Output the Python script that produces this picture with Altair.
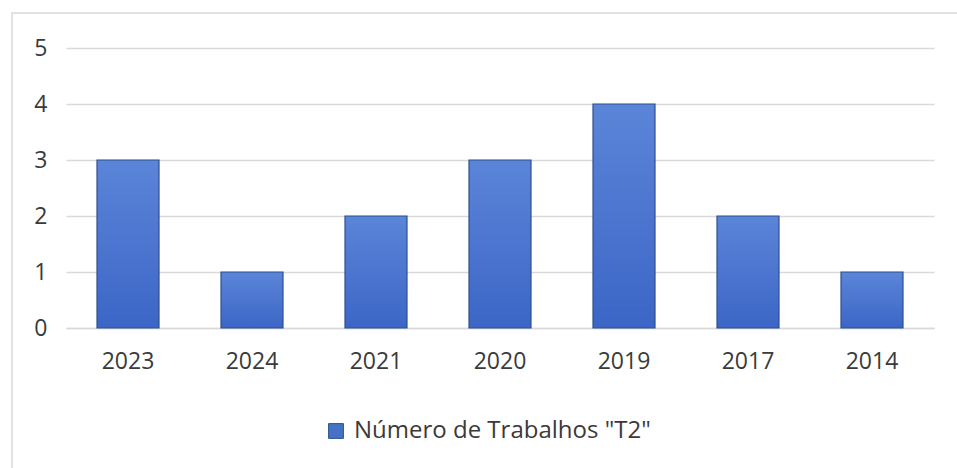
import altair as alt
import pandas as pd

anos = ["2023", "2024", "2021", "2020", "2019", "2017", "2014"]
trabalhos = [3, 1, 2, 3, 4, 2, 1]
serie = 'Número de Trabalhos "T2"'

df = pd.DataFrame({"ano": anos, "n": trabalhos, "serie": [serie] * len(anos)})

FONT = "Open Sans"
TXT = "#3a3a3a"

x_enc = alt.X("ano:N", sort=anos, title=None,
              scale=alt.Scale(paddingInner=0.5, paddingOuter=0.25),
              axis=alt.Axis(labelAngle=0, labelFontSize=23, labelFont=FONT, labelColor=TXT,
                            ticks=False, domain=True, domainColor="#d9d9d9", domainWidth=1.5,
                            labelPadding=22))
y_enc = alt.Y("n:Q", title=None,
              scale=alt.Scale(domain=[0, 5], nice=False),
              axis=alt.Axis(values=[0, 1, 2, 3, 4, 5], labelFontSize=23, labelFont=FONT,
                            labelColor=TXT, ticks=False, domain=False, gridColor="#d9d9d9",
                            gridWidth=1.5, labelPadding=19))

base = alt.Chart(df)

legend_bars = base.mark_bar().encode(
    x=x_enc, y=y_enc,
    color=alt.Color("serie:N", scale=alt.Scale(range=["#4472C4"]), title=None,
                    legend=alt.Legend(orient="none", legendX=258, legendY=371,
                                      direction="horizontal", symbolType="square",
                                      symbolSize=220, symbolStrokeColor="#2f528f",
                                      symbolStrokeWidth=1, symbolOffset=0, labelOffset=6,
                                      labelFontSize=24, labelFont=FONT, labelColor=TXT,
                                      labelLimit=600))
)

grad = alt.Gradient(gradient="linear", x1=0, x2=0, y1=0, y2=1,
                    stops=[alt.GradientStop(color="#5b85d8", offset=0),
                           alt.GradientStop(color="#3c66c6", offset=1)])

grad_bars = base.mark_bar(fill=grad, stroke="#2f4f8f", strokeWidth=1.2).encode(x=x_enc, y=y_enc)

frame = alt.Chart(pd.DataFrame({"f": [0]})).mark_rect(
    fill=None, stroke="#d9d9d9", strokeWidth=1.5
).encode(x=alt.value(-54), y=alt.value(-35), x2=alt.value(1000), y2=alt.value(500))

chart = alt.layer(frame, legend_bars, grad_bars).properties(
    width=868, height=280,
    autosize=alt.AutoSizeParams(type="none"),
    padding={"left": 66, "top": 48, "right": 23, "bottom": 140},
).configure(background="white").configure_view(stroke=None)

chart.save("out.html", embed_options={"renderer": "svg", "actions": False})
